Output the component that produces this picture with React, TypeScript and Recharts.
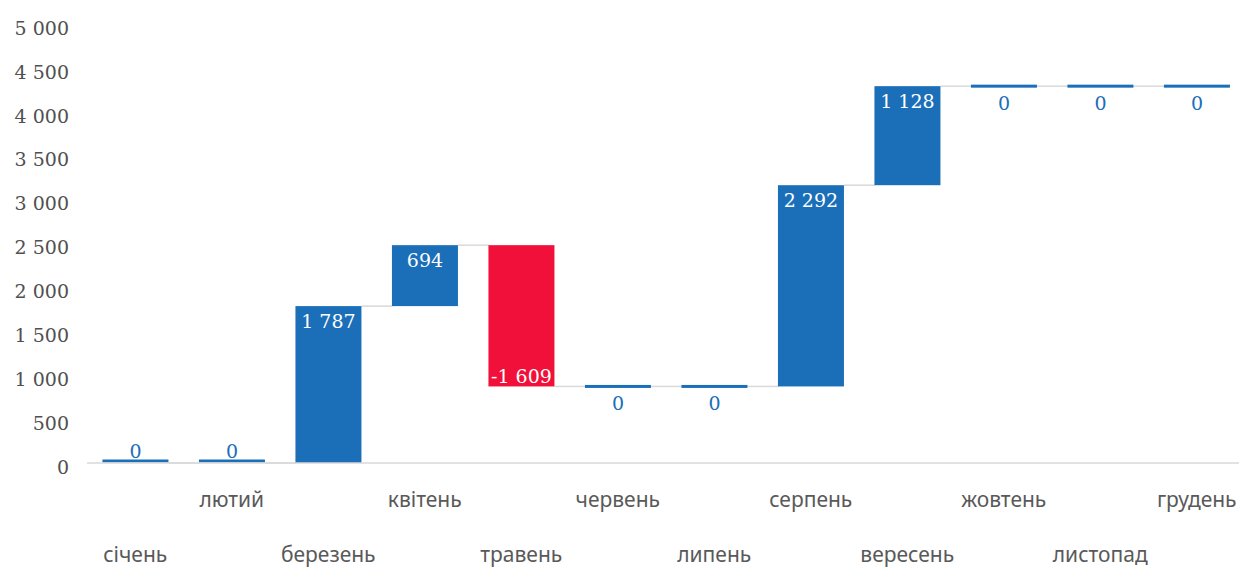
import { BarChart, Bar, XAxis, YAxis, Cell, LabelList } from 'recharts'

// monthly changes (waterfall)
const months = ['січень', 'лютий', 'березень', 'квітень', 'травень', 'червень', 'липень', 'серпень', 'вересень', 'жовтень', 'листопад', 'грудень']
const changes = [0, 0, 1787, 694, -1609, 0, 0, 2292, 1128, 0, 0, 0]
const yTicks = [0, 500, 1000, 1500, 2000, 2500, 3000, 3500, 4000, 4500, 5000]

const BLUE = '#1b6eb8'
const RED = '#f01039'
const GAP = 0.16

// running totals -> [low, high] ranges for each bar
let running = 0
const data = months.map((month, i) => {
  const start = running
  const end = start + changes[i]
  running = end
  return {
    month,
    delta: changes[i],
    start,
    end,
    range: [Math.min(start, end), Math.max(start, end)],
  }
})

const fmt = (v: number) => {
  const s = Math.abs(v).toString().replace(/\B(?=(\d{3})+(?!\d))/g, ' ')
  return v < 0 ? '-' + s : s
}

function WaterfallBar(props: any) {
  const { x, y, width, height, index, payload } = props
  const h = Math.max(height || 0, 0)
  const endY = payload.delta < 0 ? y + h : y
  const gap = (width * 2 * GAP) / (1 - 2 * GAP)
  const isZero = payload.delta === 0
  // zero bars drawn as a thin strip; the ones on the axis sit just above it
  const zy = payload.start === 0 ? y - 3.5 : y - 1.5
  return (
    <g>
      {index < months.length - 1 && (
        <line x1={x + width} x2={x + width + gap} y1={endY} y2={endY} stroke="#d9d9d9" strokeWidth={1.5} />
      )}
      <rect
        x={x}
        y={isZero ? zy : y}
        width={width}
        height={isZero ? 3 : h}
        fill={payload.delta < 0 ? RED : BLUE}
      />
    </g>
  )
}

function renderLabel(props: any) {
  const { x, y, width, height, value, index } = props
  const item = data[index]
  const cx = x + width / 2
  const style = { fontFamily: '"DejaVu Serif", serif', fontSize: 19 }
  if (value > 0) {
    return <text x={cx} y={y + 22} textAnchor="middle" fill="#fff" style={style}>{fmt(value)}</text>
  }
  if (value < 0) {
    return <text x={cx} y={y + height - 3} textAnchor="middle" fill="#fff" style={style}>{fmt(value)}</text>
  }
  // zero changes: above when sitting on the axis, below otherwise
  const ty = item.start === 0 ? y - 5 : y + 24
  return <text x={cx} y={ty} textAnchor="middle" fill={BLUE} style={style}>{fmt(value)}</text>
}

function MonthTick(props: any) {
  const { x, index, payload } = props
  const ty = index % 2 === 1 ? 507 : 562
  return (
    <text x={x} y={ty} textAnchor="middle" fill="#595959" style={{ fontFamily: '"Noto Sans", sans-serif', fontSize: 21 }}>
      {payload.value}
    </text>
  )
}

export default function App() {
  return (
    <div style={{ width: 1239, height: 568, background: '#fff', overflow: 'hidden' }}>
      <style>{'body{margin:0}'}</style>
      <BarChart
        width={1245}
        height={568}
        data={data}
        margin={{ top: 24, right: 0, bottom: 0, left: 0 }}
        barCategoryGap={`${GAP * 100}%`}
      >
        <XAxis
          dataKey="month"
          height={105}
          interval={0}
          tickLine={false}
          axisLine={{ stroke: '#d9d9d9', strokeWidth: 1.5 }}
          tick={<MonthTick />}
        />
        <YAxis
          width={87}
          domain={[0, 5000]}
          ticks={yTicks}
          interval={0}
          axisLine={false}
          tickLine={false}
          tickMargin={12}
          tickFormatter={fmt}
          tick={{ fill: '#505050', fontFamily: '"DejaVu Serif", serif', fontSize: 19, dy: 4 }}
        />
        <Bar dataKey="range" isAnimationActive={false} shape={<WaterfallBar />}>
          {data.map((d, i) => (
            <Cell key={i} fill={d.delta < 0 ? RED : BLUE} />
          ))}
          <LabelList dataKey="delta" content={renderLabel} />
        </Bar>
      </BarChart>
    </div>
  )
}
